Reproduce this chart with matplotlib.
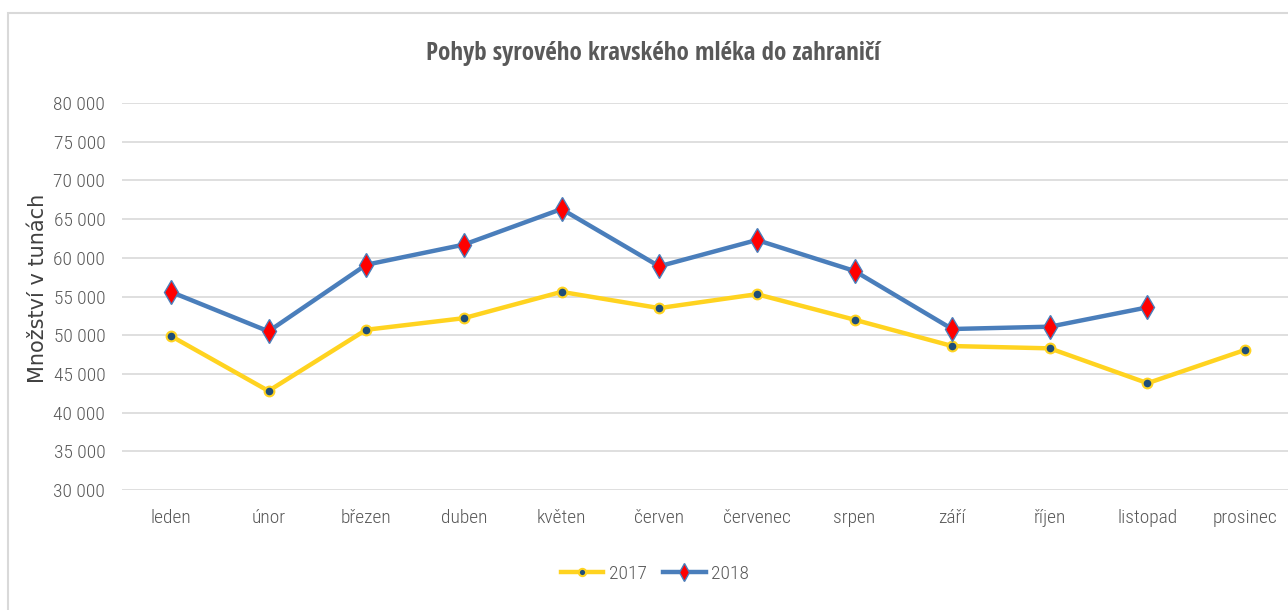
import matplotlib.pyplot as plt
from matplotlib.patches import Rectangle
from matplotlib.ticker import FuncFormatter

months = ['leden', 'únor', 'březen', 'duben', 'květen', 'červen', 'červenec',
          'srpen', 'září', 'říjen', 'listopad', 'prosinec']
vals_2017 = [49900, 42800, 50700, 52200, 55600, 53500, 55300, 52000, 48600, 48300, 43800, 48100]
vals_2018 = [55600, 50500, 59100, 61700, 66300, 58900, 62300, 58300, 50800, 51100, 53600]

title_font = ['Open Sans Condensed', 'DejaVu Sans']
narrow = ['Roboto Condensed', 'DejaVu Sans']
grey = '#595959'

fig = plt.figure(figsize=(12.88, 6.10), dpi=100)
fig.patches.append(Rectangle((8 / 1288, -0.1), 1.2, 1 - 13 / 610 + 0.1, transform=fig.transFigure,
                             fill=False, edgecolor='#d9d9d9', linewidth=1.5))

ax = fig.add_axes([122 / 1288, 1 - 490 / 610, (1294 - 122) / 1288, (490 - 103) / 610])
x = list(range(len(months)))
ax.plot(x, vals_2017, color='#FFD320', linewidth=3.2, marker='o', markersize=7,
        markerfacecolor='#1F4E79', markeredgecolor='#FFD320', markeredgewidth=1.5, label='2017', zorder=3)
ax.plot(x[:len(vals_2018)], vals_2018, color='#4A7EBB', linewidth=3.2, marker='d', markersize=12,
        markerfacecolor='#FF0000', markeredgecolor='#4A7EBB', markeredgewidth=1.0, label='2018', zorder=3)

ax.set_xlim(-0.5, len(months) - 0.5)
ax.set_ylim(30000, 80000)
ax.set_yticks(range(30000, 80001, 5000))
ax.yaxis.set_major_formatter(FuncFormatter(lambda v, p: f'{int(v):,}'.replace(',', ' ')))
ax.set_xticks(x)
ax.set_xticklabels(months)
ax.grid(axis='y', color='#d9d9d9', linewidth=1.2)
ax.set_axisbelow(True)
for s in ax.spines.values():
    s.set_visible(False)
ax.tick_params(length=0, labelcolor=grey, labelsize=14, pad=12)
ax.tick_params(axis='x', pad=14)
for lbl in ax.get_xticklabels() + ax.get_yticklabels():
    lbl.set_family(narrow)
    lbl.set_fontweight(300)

ax.set_ylabel('Množství v tunách', fontsize=15, color='#404040', family='DejaVu Sans', fontweight='medium')
ax.yaxis.set_label_coords(-0.063, 0.52)

fig.text(653 / 1288, 1 - 53 / 610, 'Pohyb syrového kravského mléka do zahraničí', ha='center', va='center',
         fontsize=18, fontweight='bold', color=grey, family=title_font)

leg = fig.legend(loc='center', bbox_to_anchor=(655 / 1288, 1 - 574 / 610), ncol=2, frameon=False,
                 prop={'family': narrow, 'size': 14, 'weight': 300}, handlelength=2.2,
                 columnspacing=0.8, handletextpad=0.3, markerscale=0.75)
for t in leg.get_texts():
    t.set_color(grey)

fig.savefig('out.png', dpi=100)
